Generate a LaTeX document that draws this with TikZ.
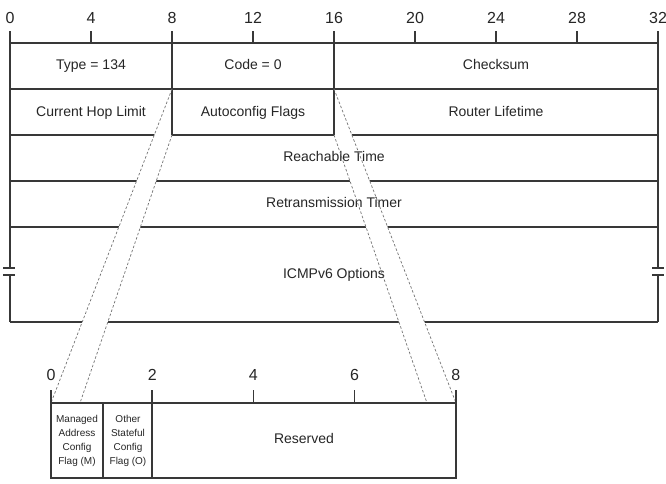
\documentclass[tikz,border=0pt]{standalone}
\usepackage{fontspec}
\setmainfont{Liberation Sans}
\usetikzlibrary{positioning}
\tikzset{
  rule/.style={draw=black!78, line width=1.5pt},
  zoomband/.style={draw=black!55, line width=0.7pt, dash pattern=on 2.5pt off 2pt},
  bitnum/.style={inner sep=0pt, text=black!85, font=\fontsize{16}{16}\selectfont},
  field/.style={inner sep=0pt, text height=10pt, text depth=3pt, text=black!85,
    font=\fontsize{14}{16}\selectfont},
  flag/.style={inner sep=0pt, align=center, text=black!85, font=\fontsize{10}{14}\selectfont},
}

\begin{document}
\begin{tikzpicture}[x=1pt, y=-1pt]
  \useasboundingbox[fill=white] (0,0) rectangle (666,483);

  % lower rows of the header first, the bands cut through them
  \draw[rule] (10,135) -- (658,135);
  \draw[rule] (10,181) -- (658,181);
  \draw[rule] (10,227) -- (658,227);
  \draw[rule] (10,322) -- (658,322);

  % autoconfig flags field and where it opens out below
  \coordinate (flagsTL) at (172,89);
  \coordinate (flagsBL) at (172,135);
  \coordinate (flagsTR) at (334,89);
  \coordinate (flagsBR) at (334,135);
  \coordinate (zoomL) at (51,403);
  \coordinate (zoomL2) at (80,403);
  \coordinate (zoomR2) at (427,403);
  \coordinate (zoomR) at (456,403);
  \fill[white] (flagsTL) -- (zoomL) -- (zoomL2) -- (flagsBL) -- cycle;
  \fill[white] (flagsTR) -- (zoomR) -- (zoomR2) -- (flagsBR) -- cycle;

  \draw[rule] (10,43) -- (658,43);
  \draw[rule] (10,89) -- (658,89);

  % bit numbers and ticks
  \foreach \b in {0,4,...,32}
    \node[bitnum] (top\b) at (10+20.25*\b,18) {\b};
  \foreach \b in {4,12,20,24,28}
    \draw[rule] (10+20.25*\b,31) -- (10+20.25*\b,43);

  % side borders with break marks
  \draw[rule] (10,31) -- (10,268);
  \draw[rule] (10,275) -- (10,322);
  \draw[rule] (3,268) -- (15,268);
  \draw[rule] (3,275) -- (15,275);
  \draw[rule] (658,31) -- (658,268);
  \draw[rule] (658,275) -- (658,322);
  \draw[rule] (652,268) -- (664,268);
  \draw[rule] (652,275) -- (664,275);
  \draw[rule] (172,31) -- (172,135);
  \draw[rule] (334,31) -- (334,135);

  % fields
  \node[field] (type) at (91,66) {Type = 134};
  \node[field] (code) at (253,66) {Code = 0};
  \node[field] (checksum) at (496,66) {Checksum};
  \node[field] (hoplimit) at (91,113) {Current Hop Limit};
  \node[field] (autoflags) at (253,113) {Autoconfig Flags};
  \node[field] (lifetime) at (496,113) {Router Lifetime};
  \node[field] (reachable) at (334,158) {Reachable Time};
  \node[field] (retrans) at (334,204) {Retransmission Timer};
  \node[field] (options) at (334,275) {ICMPv6 Options};

  \draw[zoomband] (flagsTL) -- (zoomL);
  \draw[zoomband] (flagsBL) -- (zoomL2);
  \draw[zoomband] (flagsTR) -- (zoomR);
  \draw[zoomband] (flagsBR) -- (zoomR2);

  % flags byte
  \foreach \b in {0,2,...,8}
    \node[bitnum] (low\b) at (51+50.6*\b,375) {\b};
  \foreach \b in {0,2,...,8}
    \draw[rule] (51+50.6*\b,390) -- (51+50.6*\b,403);
  \draw[rule] (zoomL) rectangle (456,478);
  \draw[rule] (103,403) -- (103,478);
  \draw[rule] (152,403) -- (152,478);

  \node[flag] (mflag) at (77,441) {Managed\\Address\\Config\\Flag (M)};
  \node[flag] (oflag) at (128,441) {Other\\Stateful\\Config\\Flag (O)};
  \node[field] (reserved) at (304,440) {Reserved};
\end{tikzpicture}
\end{document}
